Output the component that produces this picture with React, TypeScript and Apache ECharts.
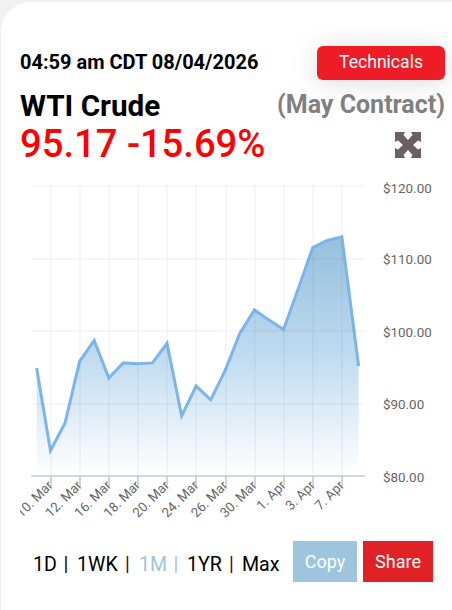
import React, { useEffect, useRef } from "react";
import * as echarts from "echarts";

const sessionIndex = [0.05, 1, 2, 3, 4, 5, 6, 7, 8, 9, 10, 11, 12, 13, 14, 15, 16, 17, 18, 19, 20, 21, 22.15];
const prices = [94.9, 83.5, 87.3, 95.8, 98.7, 93.5, 95.6, 95.5, 95.6, 98.3, 88.3, 92.4, 90.5, 94.6, 99.7, 102.9, 101.5, 100.2, 105.8, 111.5, 112.5, 113.0, 95.17];
const tickIndex = [1, 3, 5, 7, 9, 11, 13, 15, 17, 19, 21];
const tickLabels = ["10. Mar", "12. Mar", "16. Mar", "18. Mar", "20. Mar", "24. Mar", "26. Mar", "30. Mar", "1. Apr", "3. Apr", "7. Apr"];
const yTicks = { min: 80, max: 120, step: 10 };
const rangeLinks = [
  { text: "1D", x: 33, color: "#000000" },
  { text: "|", x: 63.5, color: "#000000" },
  { text: "1WK", x: 77, color: "#000000" },
  { text: "|", x: 125, color: "#4a0a0a" },
  { text: "1M", x: 139, color: "#9dc5de" },
  { text: "|", x: 173.5, color: "#9dc5de" },
  { text: "1YR", x: 187, color: "#000000" },
  { text: "|", x: 229, color: "#4a0a0a" },
  { text: "Max", x: 242, color: "#000000" },
];

const FONT = "Roboto";
const EXPAND_ICON =
  "M0 0H10L8.5 3 13 8 17.5 3 16 0H26V10L23 8.5 18 13 23 17.5 26 16V26H16L17.5 23 13 18 8.5 23 10 26H0V16L3 17.5 8 13 3 8.5 0 10Z";
echarts.graphic.registerShape("expandIcon", (echarts.graphic as any).extendPath(EXPAND_ICON, {}));

const label = (text: string, x: number, y: number, size: number, weight: number | string, fill: string, align = "left", z = 20) => ({
  type: "text",
  x,
  y,
  z,
  silent: true,
  style: { text, fill, font: `${weight} ${size}px ${FONT}`, textAlign: align, textVerticalAlign: "middle" },
});

export default function App() {
  const ref = useRef<HTMLDivElement>(null);
  useEffect(() => {
    const chart = echarts.init(ref.current!, undefined, { renderer: "svg" });
    chart.setOption({
      animation: false,
      backgroundColor: "#f1f1f1",
      grid: { left: 32, top: 186, width: 332, height: 290, containLabel: false },
      xAxis: {
        type: "value",
        min: -0.268,
        max: 22.52,
        axisLine: { show: true, lineStyle: { color: "#d2d6e8", width: 2 } },
        axisTick: { show: true, length: 11, customValues: tickIndex, lineStyle: { color: "#c4c4cc", width: 1.5 } },
        splitLine: { show: true, lineStyle: { color: "rgba(80,80,110,0.045)", width: 2 } },
        axisLabel: {
          customValues: tickIndex,
          rotate: 45,
          margin: 7,
          color: "#666666",
          fontFamily: FONT,
          fontSize: 13.4,
          formatter: (v: number) => tickLabels[tickIndex.indexOf(v)] ?? "",
        },
      },
      yAxis: {
        type: "value",
        position: "right",
        min: yTicks.min,
        max: yTicks.max,
        interval: yTicks.step,
        axisLine: { show: false },
        axisTick: { show: false },
        splitLine: { show: true, lineStyle: { color: "rgba(80,80,110,0.045)", width: 2 } },
        axisLabel: {
          margin: 19,
          color: "#666666",
          fontFamily: FONT,
          fontSize: 13.4,
          padding: [2, 0, 0, 0],
          formatter: (v: number) => (v === yTicks.max ? `{top|$${v.toFixed(2)}}` : `$${v.toFixed(2)}`),
          rich: { top: { padding: [2, 0, 0, 0], fontSize: 13.4, fontFamily: FONT, color: "#666666" } },
        },
      },
      series: [
        {
          type: "line",
          data: sessionIndex.map((x, i) => [x, prices[i]]),
          symbol: "none",
          z: -1,
          lineStyle: { color: "#7cb5ec", width: 3, join: "miter" },
          areaStyle: {
            origin: "start",
            opacity: 1,
            color: new echarts.graphic.LinearGradient(0, 0, 0, 1, [
              { offset: 0, color: "#95c0db" },
              { offset: 0.5, color: "#c0dbf0" },
              { offset: 1, color: "#ffffff" },
            ]),
          },
        },
      ],
      graphic: {
        elements: [
          { type: "rect", z: -10, silent: true, shape: { x: 1, y: 2, width: 480, height: 640, r: 30 }, style: { fill: "#ffffff" } },
          { type: "rect", z: 20, silent: true, shape: { x: 3, y: 480, width: 17, height: 60 }, style: { fill: "#ffffff" } },
          label("04:59 am CDT 08/04/2026", 20, 62, 20, 700, "#000000"),
          label("WTI Crude", 20, 105.5, 29.7, 700, "#000000"),
          label("(May Contract)", 445, 104, 25, 700, "#808080", "right"),
          label("95.17 -15.69%", 20, 144, 38.2, 500, "#ff0000"),
          {
            type: "rect",
            z: 15,
            silent: true,
            shape: { x: 317, y: 46, width: 128, height: 34, r: 6 },
            style: { fill: "#ee1c25", shadowBlur: 24, shadowColor: "rgba(0,0,0,0.14)", shadowOffsetY: 2 },
          },
          label("Technicals", 381, 62, 17.6, 400, "#ffffff", "center"),
          {
            type: "expandIcon",
            z: 20,
            silent: true,
            x: 395,
            y: 132,
            style: { fill: "#6b5f66" },
          },
          ...rangeLinks.map((r) => label(r.text, r.x, 564, 19.6, 400, r.color)),
          { type: "rect", z: 15, silent: true, shape: { x: 293, y: 541, width: 64, height: 41 }, style: { fill: "#9dc5de" } },
          label("Copy", 325, 561, 18, 400, "#ffffff", "center"),
          { type: "rect", z: 15, silent: true, shape: { x: 363, y: 541, width: 70, height: 41 }, style: { fill: "#e02125" } },
          label("Share", 398, 561, 18, 400, "#ffffff", "center"),
        ],
      },
    });
    return () => chart.dispose();
  }, []);
  return <div ref={ref} style={{ position: "absolute", left: 0, top: 0, width: 452, height: 610 }} />;
}
